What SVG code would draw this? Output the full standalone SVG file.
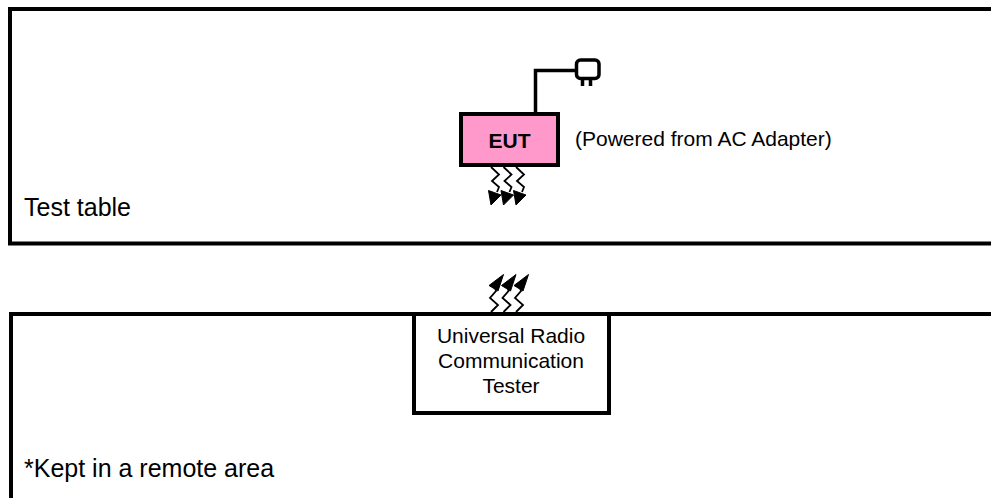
<svg xmlns="http://www.w3.org/2000/svg" width="991" height="498" viewBox="0 0 991 498">
<style>
.frame{fill:#fff;stroke:#000;stroke-width:4}
.lbl{font-family:"Liberation Sans",Arial,sans-serif;fill:#000}
.wire{fill:none;stroke:#000;stroke-width:3.5}
.zig{fill:none;stroke:#000;stroke-width:1.8}
.head{fill:#000;stroke:#000;stroke-width:1;stroke-linejoin:miter}
</style>
<rect width="991" height="498" fill="#fff"/>
<g id="test-table">
<rect class="frame" x="10" y="9" width="1000" height="234.5"/>
<text class="lbl" x="24" y="216" font-size="25">Test table</text>
</g>
<g id="remote-area">
<rect class="frame" x="11" y="314" width="1000" height="200"/>
<text class="lbl" x="24" y="477" font-size="25">*Kept in a remote area</text>
</g>
<g id="adapter">
<path class="wire" d="M535.5,114 V70.5 H577"/>
<rect x="576.5" y="60" width="22.5" height="18.5" rx="4" fill="#fff" stroke="#000" stroke-width="3.5"/>
<path d="M582.5,78 V86 M590.5,78 V86" stroke="#000" stroke-width="3.5" fill="none"/>
</g>
<g id="eut">
<rect x="461" y="114" width="97" height="51" fill="#FF99CC" stroke="#000" stroke-width="4"/>
<text class="lbl" x="509.5" y="148" font-size="21" font-weight="bold" text-anchor="middle">EUT</text>
<text class="lbl" x="575" y="146" font-size="21">(Powered from AC Adapter)</text>
</g>
<g id="tester">
<rect x="414" y="314" width="195" height="99" fill="#fff" stroke="#000" stroke-width="4"/>
<text class="lbl" font-size="21" text-anchor="middle"><tspan x="511" y="343">Universal Radio</tspan><tspan x="511" y="368">Communication</tspan><tspan x="511" y="393">Tester</tspan></text>
</g>
<g id="connectors">
<g id="eut-waves">
<g id="w1">
<path class="zig" d="M491,167 L499,174.5 L492,181 L499,187 L497,192"/>
<polygon class="head" points="491,205 488.5,190.5 501,195"/>
</g>
<use href="#w1" x="12.5"/>
<use href="#w1" x="25"/>
</g>
<g id="tester-waves">
<g id="w2">
<path class="zig" d="M491,312 L498,305 L490,298 L496,291 L495,287"/>
<polygon class="head" points="503.5,274.5 489,285.5 498,291"/>
</g>
<use href="#w2" x="12.5"/>
<use href="#w2" x="25"/>
</g>
</g>
</svg>
